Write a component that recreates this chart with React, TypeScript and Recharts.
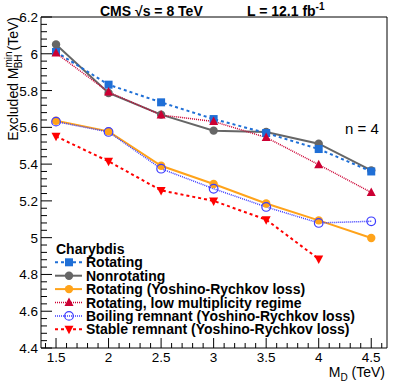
import { LineChart, Line, XAxis, YAxis, ReferenceArea } from "recharts"

// M_D values (TeV)
const mD = [1.5, 2, 2.5, 3, 3.5, 4, 4.5]

// excluded M_BH^min (TeV)
const rotating = [6.01, 5.832, 5.736, 5.645, 5.569, 5.482, 5.36]
const nonrotating = [6.051, 5.787, 5.669, 5.582, 5.575, 5.511, 5.366]
const rotatingYR = [5.636, 5.578, 5.391, 5.292, 5.186, 5.094, 4.998]
const lowMultiplicity = [6.004, 5.792, 5.667, 5.632, 5.545, 5.397, 5.246]
const boilingYR = [5.631, 5.575, 5.375, 5.266, 5.167, 5.08, 5.089]
const stableYR = [5.551, 5.415, 5.257, 5.2, 5.098, 4.884, null]

const yMajorTicks = [4.4, 4.6, 4.8, 5, 5.2, 5.4, 5.6, 5.8, 6, 6.2]
const xMajorTicks = [1.5, 2, 2.5, 3, 3.5, 4, 4.5]

const xDomain = [1.357, 4.65]
const yDomain = [4.4, 6.2]

const round = (v: number) => Math.round(v * 1000) / 1000

const yTicks: number[] = []
for (let i = 0; i <= 45; i++) yTicks.push(round(4.4 + i * 0.04))
const xTicks: number[] = []
for (let i = 0; i <= 32; i++) xTicks.push(round(1.4 + i * 0.1))

const isMajor = (list: number[], v: number) => list.some((m) => Math.abs(m - v) < 1e-6)

const data = mD.map((x, i) => ({
  x,
  rotating: rotating[i],
  nonrotating: nonrotating[i],
  rotatingYR: rotatingYR[i],
  lowMultiplicity: lowMultiplicity[i],
  boilingYR: boilingYR[i],
  stableYR: stableYR[i],
}))

type Shape = "square" | "circle" | "triUp" | "openCircle" | "triDown"

const series: { key: string; name: string; color: string; width: number; dash?: string; shape: Shape }[] = [
  { key: "rotatingYR", name: "Rotating (Yoshino-Rychkov loss)", color: "#ffa31a", width: 2, shape: "circle" },
  { key: "boilingYR", name: "Boiling remnant (Yoshino-Rychkov loss)", color: "#3c3cff", width: 1.5, dash: "1 1", shape: "openCircle" },
  { key: "stableYR", name: "Stable remnant (Yoshino-Rychkov loss)", color: "#ff0000", width: 2, dash: "3 3", shape: "triDown" },
  { key: "nonrotating", name: "Nonrotating", color: "#666666", width: 2, shape: "circle" },
  { key: "rotating", name: "Rotating", color: "#1f6fd6", width: 2, dash: "3 3", shape: "square" },
  { key: "lowMultiplicity", name: "Rotating, low multiplicity regime", color: "#cc0033", width: 1.5, dash: "1 1", shape: "triUp" },
]

const legendOrder = ["rotating", "nonrotating", "rotatingYR", "lowMultiplicity", "boilingYR", "stableYR"]

function Marker({ shape, color, cx, cy }: { shape: Shape; color: string; cx: number; cy: number }) {
  if (shape === "square") return <rect x={cx - 4} y={cy - 4} width={8} height={8} fill={color} />
  if (shape === "circle") return <circle cx={cx} cy={cy} r={4.2} fill={color} />
  if (shape === "openCircle") return <circle cx={cx} cy={cy} r={4.3} fill="none" stroke={color} strokeWidth={1.2} />
  if (shape === "triUp")
    return <polygon points={`${cx},${cy - 5} ${cx - 4.5},${cy + 3.5} ${cx + 4.5},${cy + 3.5}`} fill={color} />
  return <polygon points={`${cx},${cy + 5} ${cx - 4.5},${cy - 3.5} ${cx + 4.5},${cy - 3.5}`} fill={color} />
}

const font = "'Liberation Sans', Arial, sans-serif"

const YTick = (p: any) => {
  const v = p.payload.value
  const major = isMajor(yMajorTicks, v)
  return (
    <g>
      <line x1={p.x} x2={p.x + (major ? 11 : 6)} y1={p.y} y2={p.y} stroke="#000" strokeWidth={1} />
      {major && (
        <text x={p.x - 3} y={p.y + 5} textAnchor="end" fontSize={13.5} fontFamily={font} fill="#000">
          {String(round(v))}
        </text>
      )}
    </g>
  )
}

const XTick = (p: any) => {
  const v = p.payload.value
  const major = isMajor(xMajorTicks, v)
  return (
    <g>
      <line x1={p.x} x2={p.x} y1={p.y} y2={p.y - (major ? 10 : 5)} stroke="#000" strokeWidth={1} />
      {major && (
        <text x={p.x} y={p.y + 14} textAnchor="middle" fontSize={13.5} fontFamily={font} fill="#000">
          {String(round(v))}
        </text>
      )}
    </g>
  )
}

export default function App() {
  return (
    <div style={{ position: "relative", width: 407, height: 387, background: "#fff" }}>
      <style>{"body{margin:0}"}</style>
      <LineChart width={407} height={387} data={data} margin={{ top: 17, right: 20, left: 0, bottom: 0 }}>
        <XAxis
          dataKey="x"
          type="number"
          domain={xDomain}
          ticks={xTicks}
          interval={0}
          allowDataOverflow
          height={39}
          tickSize={0}
          tickMargin={0}
          tickLine={false}
          axisLine={false}
          tick={<XTick />}
        />
        <YAxis
          type="number"
          domain={yDomain}
          ticks={yTicks}
          interval={0}
          allowDataOverflow
          width={41}
          tickSize={0}
          tickMargin={0}
          tickLine={false}
          axisLine={false}
          tick={<YTick />}
        />
        <ReferenceArea x1={xDomain[0]} x2={xDomain[1]} y1={yDomain[0]} y2={yDomain[1]} fill="none" stroke="#000" strokeWidth={1} fillOpacity={0} />
        {series.map((s) => (
          <Line
            key={s.key}
            dataKey={s.key}
            stroke={s.color}
            strokeWidth={s.width}
            strokeDasharray={s.dash}
            isAnimationActive={false}
            dot={(p: any) => <Marker key={`${s.key}-${p.index}`} shape={s.shape} color={s.color} cx={p.cx} cy={p.cy} />}
            activeDot={false}
          />
        ))}
      </LineChart>
      <svg width={407} height={387} style={{ position: "absolute", left: 0, top: 0, pointerEvents: "none" }}>
        <text x={100} y={16} fontSize={14} fontWeight="bold" fontFamily={font}>
          CMS √s = 8 TeV
        </text>
        <text x={247} y={16} fontSize={14} fontWeight="bold" fontFamily={font}>
          L = 12.1 fb<tspan dy={-6} fontSize={10}>-1</tspan>
        </text>
        <text transform="translate(18,17) rotate(-90)" textAnchor="end" fontSize={14} fontFamily={font}>
          Excluded M<tspan dy={-6} fontSize={10}>min</tspan>
          <tspan dx={-17} dy={10} fontSize={10}>BH</tspan>
          <tspan dx={4} dy={-4}>(TeV)</tspan>
        </text>
        <text x={385} y={377} textAnchor="end" fontSize={14} fontFamily={font}>
          M<tspan dy={4} fontSize={10}>D</tspan>
          <tspan dy={-4}> (TeV)</tspan>
        </text>
        <text x={345} y={134} fontSize={15} fontFamily={font}>
          n = 4
        </text>
        <text x={56} y={254} fontSize={14} fontWeight="bold" fontFamily={font}>
          Charybdis
        </text>
        {legendOrder.map((k, i) => {
          const s = series.find((d) => d.key === k)!
          const cy = 262.3 + i * 13.4
          return (
            <g key={k}>
              <line x1={55} x2={82} y1={cy} y2={cy} stroke={s.color} strokeWidth={s.width} strokeDasharray={s.dash} />
              <Marker shape={s.shape} color={s.color} cx={69} cy={cy} />
              <text x={86} y={cy + 5} fontSize={14} fontWeight="bold" fontFamily={font}>
                {s.name}
              </text>
            </g>
          )
        })}
      </svg>
    </div>
  )
}
